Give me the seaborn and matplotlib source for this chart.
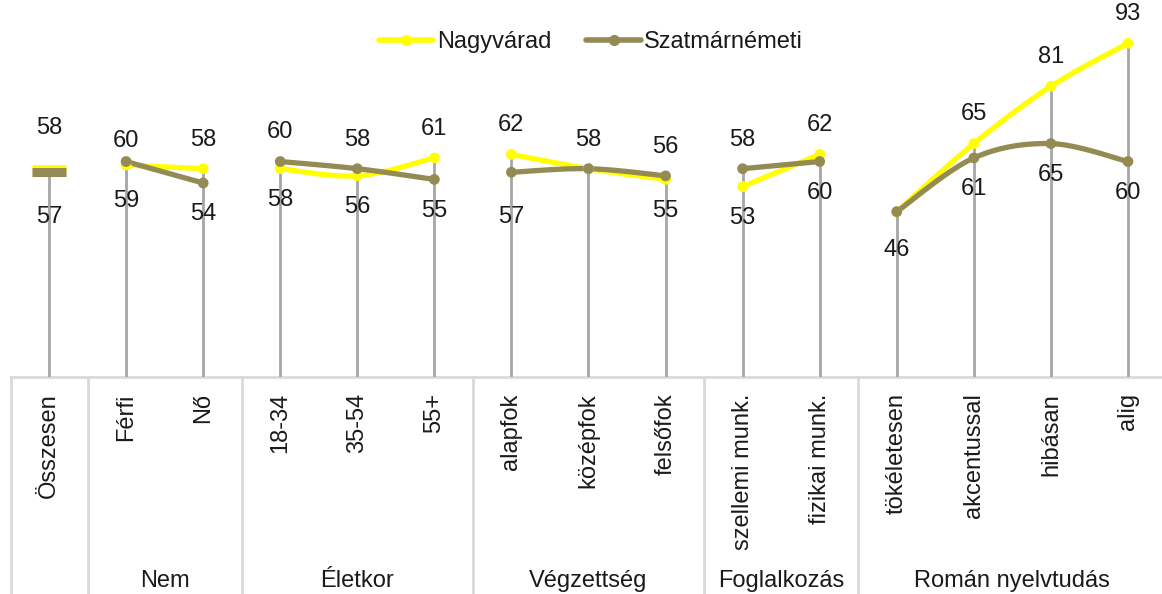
import numpy as np
import pandas as pd
import matplotlib
matplotlib.use("Agg")
import matplotlib.pyplot as plt
import matplotlib.transforms as mtransforms
from matplotlib.lines import Line2D
import seaborn as sns

# ---------------- data ----------------
categories = ["Összesen", "Férfi", "Nő", "18-34", "35-54", "55+",
              "alapfok", "középfok", "felsőfok",
              "szellemi munk.", "fizikai munk.",
              "tökéletesen", "akcentussal", "hibásan", "alig"]
group_labels = ["", "Nem", "Életkor", "Végzettség", "Foglalkozás", "Román nyelvtudás"]
group_sizes = [1, 2, 3, 3, 2, 4]
series_names = ["Nagyvárad", "Szatmárnémeti"]
nagyvarad = [58, 59, 58, 58, 56, 61, 62, 58, 55, 53, 62, 46, 65, 81, 93]
szatmar = [57, 60, 54, 60, 58, 55, 57, 58, 56, 58, 60, 46, 61, 65, 60]
# where the single label goes when both values are equal
tie_label_side = {"középfok": "above", "tökéletesen": "below"}

# ---------------- style ----------------
colors = {"Nagyvárad": "#FFFF00", "Szatmárnémeti": "#948A54"}
# extra label nudges (points) imitating manual label placement
label_nudge = {("Férfi", "above"): -6.5, ("Férfi", "below"): -3.5,
               ("alapfok", "below"): -10, ("tökéletesen", "below"): -5}

sns.set_style("white")
plt.rcParams["font.family"] = ["Liberation Sans", "DejaVu Sans"]
TXT = "#1a1a1a"
FS = 17

W, H = 1162, 594
fig = plt.figure(figsize=(W / 100, H / 100), dpi=100)
ax = fig.add_axes([10.5 / W, (H - 376.5) / H, 1156 / W, 358.3 / H])

x = np.arange(len(categories))
df = pd.DataFrame({
    "pos": np.concatenate([x, x]),
    "value": nagyvarad + szatmar,
    "város": [series_names[0]] * len(x) + [series_names[1]] * len(x),
})


def smooth(xs, ys, n=30):
    pts = np.column_stack([xs, ys]).astype(float)
    if len(pts) < 2:
        return pts[:, 0], pts[:, 1]
    out = []
    for i in range(len(pts) - 1):
        p0 = pts[i - 1] if i > 0 else pts[i]
        p1, p2 = pts[i], pts[i + 1]
        p3 = pts[i + 2] if i + 2 < len(pts) else pts[i + 1]
        c1 = p1 + (p2 - p0) / 6
        c2 = p2 - (p3 - p1) / 6
        t = np.linspace(0, 1, n)[:, None]
        seg = ((1 - t) ** 3) * p1 + 3 * ((1 - t) ** 2) * t * c1 + 3 * (1 - t) * t ** 2 * c2 + t ** 3 * p2
        out.append(seg if i == 0 else seg[1:])
    out = np.vstack(out)
    return out[:, 0], out[:, 1]


# drop lines (max value down to axis)
tops = np.maximum(nagyvarad, szatmar)
ax.vlines(x, 0, tops, color="#A6A6A6", lw=2, zorder=1)

starts = np.cumsum([0] + group_sizes[:-1])
for name, color in colors.items():
    vals = df[df["város"] == name]["value"].to_numpy()
    for s, size in zip(starts, group_sizes):
        if size > 1:
            sx, sy = smooth(x[s:s + size], vals[s:s + size])
            ax.plot(sx, sy, color=color, lw=3.8, solid_capstyle="round", zorder=3)
        else:
            ax.plot(x[s:s + size], vals[s:s + size], color=color, marker="_",
                    markersize=24, markeredgewidth=6.5, linestyle="none", zorder=3)

multi = df[df["pos"] != 0]
sns.scatterplot(data=multi, x="pos", y="value", hue="város", palette=colors,
                s=60, edgecolor="none", legend=False, ax=ax, zorder=4)


def put_label(i, val, side):
    if i == 0:
        off = 29 if side == "above" else -32
    else:
        off = 21 if side == "above" else -22.5
    off += label_nudge.get((categories[i], side), 0)
    ax.annotate(str(val), (i, val), xytext=(0, off), textcoords="offset points",
                ha="center", va="center", fontsize=FS, color=TXT, zorder=5)


for i, cat in enumerate(categories):
    a, b = nagyvarad[i], szatmar[i]
    if a == b:
        put_label(i, a, tie_label_side.get(cat, "above"))
    else:
        put_label(i, max(a, b), "above")
        put_label(i, min(a, b), "below")

ax.set_xlim(-0.5, len(categories) - 0.5)
ax.set_ylim(0, 100)
ax.set_xticks(x)
ax.set_xticklabels(categories, rotation=90, fontsize=FS, color=TXT, va="top", ha="center")
ax.tick_params(axis="x", length=0, pad=12)
ax.set_yticks([])
ax.set_xlabel("")
ax.set_ylabel("")
for sp in ["top", "left", "right"]:
    ax.spines[sp].set_visible(False)
ax.spines["bottom"].set_color("#D9D9D9")
ax.spines["bottom"].set_linewidth(2)
ax.spines["bottom"].set_zorder(0)

# group separators and labels
trans = mtransforms.blended_transform_factory(ax.transData, fig.transFigure)
bounds = np.concatenate([[0], np.cumsum(group_sizes)]) - 0.5
for bx in bounds:
    ax.plot([bx, bx], [(H - 377) / H, 0], color="#D9D9D9", lw=2, transform=trans, clip_on=False)
for s, size, lab in zip(starts, group_sizes, group_labels):
    if lab:
        ax.text(s + (size - 1) / 2, 1 - 581 / H, lab, transform=trans, ha="center", va="center",
                fontsize=FS, color=TXT)

# legend
handles = [Line2D([0], [0], color=colors[n], lw=4, marker="o", markersize=7) for n in series_names]
fig.legend(handles, series_names, loc="center", bbox_to_anchor=(591 / W, 1 - 42 / H), ncol=2,
           frameon=False, fontsize=FS, handlelength=2.3, handletextpad=0.15, columnspacing=1.5,
           labelcolor=TXT)

fig.savefig("out.png", dpi=100)
